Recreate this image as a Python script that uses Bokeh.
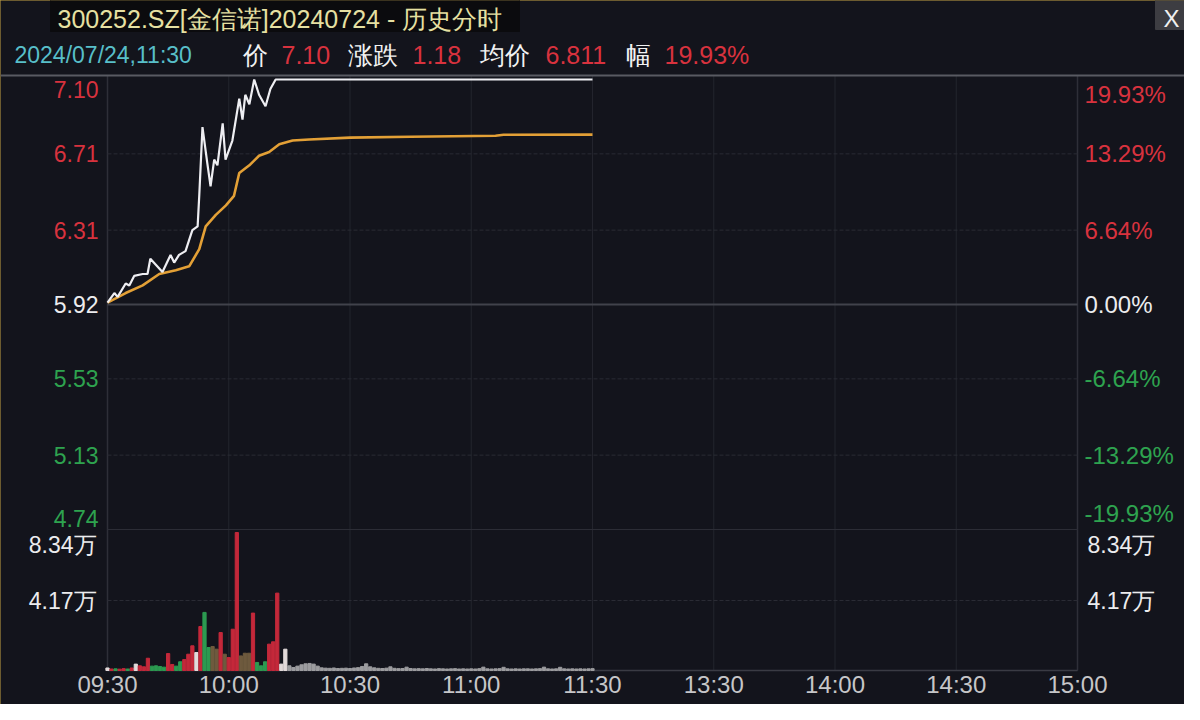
from bokeh.plotting import figure
from bokeh.models import Range1d, ColumnDataSource
from bokeh.core.properties import value
from bokeh.embed import file_html
from bokeh.resources import INLINE

# ---------------- data ----------------
# minutes after 09:30 (afternoon continues at 120 = 13:00)
time_ticks = [0, 30, 60, 90, 120, 150, 180, 210, 240]
time_labels = ["09:30", "10:00", "10:30", "11:00", "11:30", "13:30", "14:00", "14:30", "15:00"]

price_t = [0, 1.7, 2.5, 4.5, 5.4, 6.6, 8.7, 9.9, 10.6, 11.9, 13.6, 15.6, 16.5, 17.7, 19.3,
           21.0, 22.3, 22.7, 23.5, 24.7, 25.5, 26.4, 27.2, 28.5, 29.2, 30.9, 32.6, 33.4,
           34.1, 35.1, 36.3, 37.5, 39.1, 40.3, 41.6, 120]
price_v = [5.93, 5.98, 5.96, 6.03, 6.02, 6.07, 6.08, 6.08, 6.16, 6.13, 6.09, 6.18, 6.14, 6.18, 6.20,
           6.31, 6.33, 6.49, 6.85, 6.66, 6.54, 6.68, 6.65, 6.87, 6.68, 6.78, 7.00, 6.89,
           7.02, 6.97, 7.10, 7.02, 6.96, 7.05, 7.10, 7.10]

avg_t = [0, 4.5, 8.7, 12.8, 16.9, 20.2, 22.7, 24.3, 26.8, 29.3, 31.3, 32.6, 35.1, 37.5,
         40.0, 42.5, 45.8, 49.9, 60, 75, 96, 98, 120]
avg_v = [5.93, 5.98, 6.02, 6.08, 6.10, 6.12, 6.21, 6.33, 6.39, 6.44, 6.49, 6.61, 6.65, 6.70,
         6.72, 6.76, 6.78, 6.785, 6.795, 6.80, 6.805, 6.81, 6.811]

vol_v = [1500, 900, 1000, 800, 1100, 900, 1500, 3800, 2800, 2200,
         7300, 2600, 2800, 2400, 2000, 10100, 3600, 2600, 5200, 6500,
         9700, 14700, 10700, 26200, 34600, 13700, 14300, 12700, 22600, 9700,
         7700, 24600, 82200, 8700, 10300, 10300, 34200, 4800, 2800, 5200,
         15700, 17100, 46100, 3800, 12700, 2800, 1800, 2600, 3400, 4000,
         4200, 3800, 2600, 1600, 1400, 1300, 1500, 1200, 1300, 1400,
         1200, 1500, 1700, 2400, 4000, 2200, 1600, 1300, 1200, 1400,
         2200, 1300, 1100, 1200, 2000, 1200, 1000, 1100, 1000, 1200,
         1000, 900, 1100, 1000, 900, 1000, 1100, 900, 1000, 900,
         1000, 900, 1100, 2000, 1000, 900, 1000, 1100, 1900, 1000,
         900, 1000, 900, 1000, 1000, 900, 1000, 1100, 2000, 1000,
         900, 1000, 1900, 1000, 900, 1000, 900, 1000, 900, 1000, 1100]
vol_dir = (["w", "r", "g", "r", "r", "g", "r", "w", "r", "r",
            "r", "g", "g", "g", "g", "r", "r", "g", "g", "r",
            "r", "r", "w", "r", "g", "g", "o", "o", "r", "o",
            "r", "r", "r", "o", "o", "o", "r", "g", "g", "g",
            "r", "r", "r", "w", "w"] + ["n"] * 76)
vol_t = list(range(len(vol_v)))

price_levels = [7.10, 6.71, 6.31, 5.92, 5.53, 5.13, 4.74]
price_labels = ["7.10", "6.71", "6.31", "5.92", "5.53", "5.13", "4.74"]
pct_labels = ["19.93%", "13.29%", "6.64%", "0.00%", "-6.64%", "-13.29%", "-19.93%"]
level_side = ["up", "up", "up", "flat", "down", "down", "down"]
vol_levels = [83400, 41700]
vol_labels = ["8.34万", "4.17万"]

title_text = "300252.SZ[金信诺]20240724 - 历史分时"
info_texts = ["2024/07/24,11:30", "价", "7.10", "涨跌", "1.18", "均价", "6.811", "幅", "19.93%"]
info_kind = ["date", "key", "val", "key", "val", "key", "val", "key", "val"]

# ---------------- style / layout (canvas pixels) ----------------
BG = "#13141c"
RED = "#d8323e"
GREEN = "#2ea34f"
WHITE = "#ececee"
GRID = "#23242d"
FONT = "Liberation Sans"
bar_colors = {"r": "#c4283a", "g": "#2c9a50", "w": "#e2dada", "o": "#6e5a3e", "n": "#9c9c9f"}
side_colors = {"up": RED, "flat": WHITE, "down": GREEN}
info_colors = {"date": "#58bfc9", "key": "#f2f2f2", "val": RED}
info_sizes = {"date": 23, "key": 25, "val": 25}

W, H = 1184, 704
PL, PR = 107, 1077        # plot area left / right
PT = 75                   # top separator
P_HI, P_LO = 79, 529      # pixel rows of top / bottom price level
VB, V_HI = 670, 530       # pixel rows of zero volume / top volume level

ppm = (PR - PL) / (time_ticks[-1] - time_ticks[0])
X0 = time_ticks[0] - PL / ppm
X1 = time_ticks[-1] + (W - PR) / ppm
ppp = (P_LO - P_HI) / (price_levels[0] - price_levels[-1])
Y1 = price_levels[0] + P_HI / ppp
Y0 = price_levels[-1] - (H - P_LO) / ppp
ppv = (VB - V_HI) / vol_levels[0]
V0 = -(H - VB) / ppv
V1 = VB / ppv


def cx(px):
    return X0 + px / ppm


def cy(py):
    return Y1 - py / ppp


p = figure(width=W, height=H, output_backend="svg", toolbar_location=None,
           x_range=Range1d(X0, X1), y_range=Range1d(Y0, Y1),
           min_border=0, background_fill_color=BG, border_fill_color=BG,
           x_axis_location=None, y_axis_location=None)
p.styles = {"outline": "2px solid #c9a545", "outline-offset": "-2px"}
p.extra_y_ranges = {"vol": Range1d(V0, V1)}
p.outline_line_color = None
p.grid.visible = False

t0, t1 = time_ticks[0], time_ticks[-1]

# vertical grid lines and plot borders
p.segment(x0=time_ticks, x1=time_ticks, y0=cy(VB), y1=cy(PT), line_color=GRID, line_width=1)
p.segment(x0=[t0, t1], x1=[t0, t1], y0=cy(VB), y1=cy(PT), line_color="#2e2f38", line_width=1.5)
# horizontal price grid
inner = [v for v, s in zip(price_levels[1:-1], level_side[1:-1]) if s != "flat"]
p.segment(x0=t0, x1=t1, y0=inner, y1=inner, line_color="#2a2b34", line_dash="4 2", line_width=1)
p.segment(x0=t0, x1=t1, y0=price_levels[-1], y1=price_levels[-1], line_color="#2c2d36", line_width=1)
p.segment(x0=t0, x1=t1, y0=price_levels[3], y1=price_levels[3], line_color="#41424b", line_width=2)
# volume grid
p.segment(x0=t0, x1=t1, y0=vol_levels[1], y1=vol_levels[1], line_color="#2a2b34",
          line_dash="4 2", y_range_name="vol")
p.segment(x0=t0, x1=t1, y0=0, y1=0, line_color="#3a3b44", line_width=1.5, y_range_name="vol")
# top separator across the whole window
p.segment(x0=X0, x1=X1, y0=cy(PT), y1=cy(PT), line_color="#595a62", line_width=2)

# volume bars
vsrc = ColumnDataSource(dict(t=vol_t, v=vol_v, c=[bar_colors[d] for d in vol_dir]))
p.vbar(x="t", top="v", bottom=0, width=0.8, color="c", source=vsrc, y_range_name="vol")

# price and average lines
p.line(avg_t, avg_v, line_color="#e3a036", line_width=2.6)
p.line(price_t, price_v, line_color="#eeeef2", line_width=2.2)


def txt(x, y, text, color, size=23, align="left", baseline="middle", y_range_name="default"):
    p.text(x=x, y=y, text=text, text_color=color, text_font=value(FONT),
           text_font_size=value(f"{size}px"), text_align=align, text_baseline=baseline,
           y_range_name=y_range_name)


n = len(price_levels)
for i, (v, t1s, t2s, s) in enumerate(zip(price_levels, price_labels, pct_labels, level_side)):
    if i == 0:
        base, yy = "top", v - 1.5 / ppp
    elif i == n - 1:
        base, yy = "bottom", v + 3 / ppp
    else:
        base, yy = "middle", v
    txt([cx(PL - 9)], [yy], [t1s], side_colors[s], size=23, align="right", baseline=base)
    txt([cx(PR + 7)], [yy], [t2s], side_colors[s], size=24, align="left", baseline=base)
for i, (v, t) in enumerate(zip(vol_levels, vol_labels)):
    base = "top" if i == 0 else "middle"
    vv = v - 1 / ppv if i == 0 else v
    txt([cx(PL - 11)], [vv], [t], WHITE, size=23, align="right", baseline=base, y_range_name="vol")
    txt([cx(PR + 10)], [vv], [t], WHITE, size=23, align="left", baseline=base, y_range_name="vol")

# time axis labels
txt(time_ticks, [cy(684)] * len(time_ticks), time_labels, "#c6c6c8", size=24, align="center")

# header
p.quad(left=cx(50), right=cx(519), top=cy(-6), bottom=cy(31), color="#0b0b0e")
txt([cx(57)], [cy(4)], [title_text], "#e6e0a2", size=25, baseline="top")
info_x = [14, 242, 281, 347, 412, 479, 545, 625, 664]
for x, t, k in zip(info_x, info_texts, info_kind):
    txt([cx(x)], [cy(54)], [t], info_colors[k], size=info_sizes[k])
p.quad(left=cx(1155), right=cx(1187), top=cy(-4), bottom=cy(29), color="#3d3d42")
txt([cx(1171)], [cy(4)], ["X"], "#f0f0f0", size=24, align="center", baseline="top")

open("out.html", "w").write(file_html(p, INLINE))
